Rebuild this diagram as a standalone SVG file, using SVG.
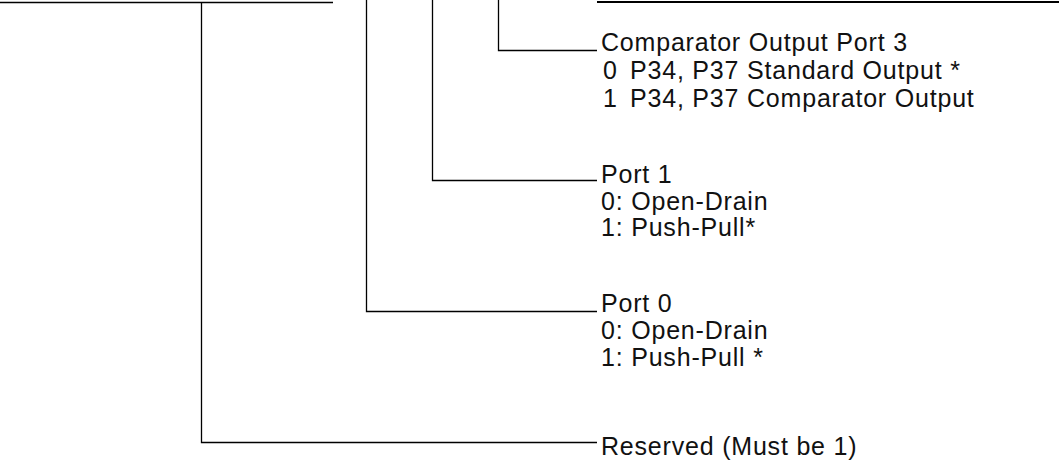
<svg xmlns="http://www.w3.org/2000/svg" width="1059" height="465" viewBox="0 0 1059 465">
<style>
.c{fill:none;stroke:#000;stroke-width:1.3}
.t{font-family:"Liberation Sans",Arial,sans-serif;font-size:25px;letter-spacing:0.8px;fill:#111}
</style>
<rect width="1059" height="465" fill="#fff"/>
<g id="connectors">
<line class="c" x1="0" y1="2.5" x2="333" y2="2.5"/>
<line x1="597" y1="2" x2="1059" y2="2" stroke="#000" stroke-width="2"/>
<polyline class="c" points="201.5,2.5 201.5,442.5 597,442.5"/>
<polyline class="c" points="366.5,0 366.5,311.5 597,311.5"/>
<polyline class="c" points="432.5,0 432.5,180.5 597,180.5"/>
<polyline class="c" points="498.5,0 498.5,50.5 597,50.5"/>
</g>
<g id="comparator">
<text class="t" x="601" y="51">Comparator Output Port 3</text>
<text class="t" x="603" y="79">0</text>
<text class="t" x="630" y="79">P34, P37 Standard Output *</text>
<text class="t" x="603" y="107">1</text>
<text class="t" x="630" y="107">P34, P37 Comparator Output</text>
</g>
<g id="port1">
<text class="t" x="601" y="183">Port 1</text>
<text class="t" x="601" y="209.5">0: Open-Drain</text>
<text class="t" x="601" y="236">1: Push-Pull*</text>
</g>
<g id="port0">
<text class="t" x="601" y="312">Port 0</text>
<text class="t" x="601" y="339">0: Open-Drain</text>
<text class="t" x="601" y="366">1: Push-Pull *</text>
</g>
<g id="reserved">
<text class="t" x="601" y="455">Reserved (Must be 1)</text>
</g>
</svg>
